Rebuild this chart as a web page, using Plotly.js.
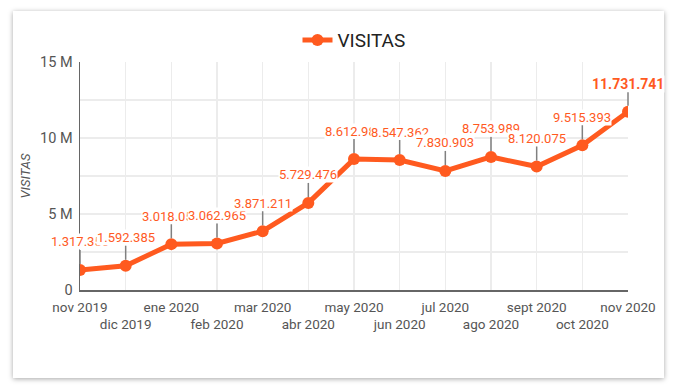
<!DOCTYPE html>
<html>
<head>
<meta charset="utf-8">
<script src="https://cdn.plot.ly/plotly-3.0.1.min.js"></script>
<style>
  html, body { margin: 0; padding: 0; background: #ffffff; width: 678px; height: 392px; overflow: hidden; }
  #card { position: absolute; left: 13px; top: 11px; width: 651px; height: 367px; background: #fff;
          box-shadow: 0 1px 5px rgba(0,0,0,0.35); }
  #chart { position: absolute; left: 0; top: 0; width: 678px; height: 392px; }
</style>
</head>
<body>
<div id="card"></div>
<div id="chart"></div>
<script>
const months = ['nov 2019','dic 2019','ene 2020','feb 2020','mar 2020','abr 2020','may 2020','jun 2020','jul 2020','ago 2020','sept 2020','oct 2020','nov 2020'];
const visitas = [1317350, 1592385, 3018050, 3062965, 3871211, 5729476, 8612985, 8547362, 7830903, 8753989, 8120075, 9515393, 11731741];
const yTickVals = [0, 2500000, 5000000, 7500000, 10000000, 12500000, 15000000];
const yTickText = ['0', '', '5 M', '', '10 M', '', '15 M'];

const orange = '#ff5a1f';
const fmt = v => String(v).replace(/\B(?=(\d{3})+(?!\d))/g, '.');
const xIdx = months.map((m, i) => i);
const xTickText = months.map((m, i) => (i % 2 ? '<br>' + m : m));

const annotations = visitas.map((v, i) => {
  const last = i === visitas.length - 1;
  return {
    x: i, y: v, xref: 'x', yref: 'y',
    text: last ? '<b>' + fmt(v) + '</b>' : fmt(v),
    showarrow: true, arrowhead: 0, arrowwidth: 1.5, arrowcolor: '#808080',
    ax: 0, ay: -28, standoff: 6,
    bgcolor: 'rgba(255,255,255,1)', borderpad: 0,
    font: { family: 'Roboto', size: last ? 14 : 13, color: orange }
  };
});

const trace = {
  x: xIdx, y: visitas, type: 'scatter', mode: 'lines+markers', name: 'VISITAS',
  line: { color: orange, width: 5 },
  marker: { color: orange, size: 12 },
  hoverinfo: 'none'
};

const layout = {
  width: 678, height: 392,
  margin: { l: 80, r: 50, t: 62, b: 102 },
  paper_bgcolor: 'rgba(0,0,0,0)', plot_bgcolor: 'rgba(0,0,0,0)',
  font: { family: 'Roboto', color: '#555' },
  showlegend: true,
  legend: { orientation: 'h', x: 0.5, xanchor: 'center', y: 1.096, yanchor: 'middle',
            font: { family: 'Roboto', size: 19, color: '#222' } },
  xaxis: {
    range: [0, 12], tickmode: 'array', tickvals: xIdx, ticktext: xTickText, tickangle: 0,
    ticks: 'outside', ticklen: 4, tickcolor: 'rgba(0,0,0,0)',
    showgrid: true, gridcolor: '#ececec', gridwidth: 1.5,
    showline: true, linecolor: '#666', linewidth: 1.5, zeroline: false,
    tickfont: { family: 'Roboto', size: 13.5, color: '#555' }, fixedrange: true
  },
  yaxis: {
    range: [0, 15000000], tickmode: 'array', tickvals: yTickVals, ticktext: yTickText,
    ticks: 'outside', ticklen: 3, tickcolor: 'rgba(0,0,0,0)',
    showgrid: true, gridcolor: '#ececec', gridwidth: 1.5,
    showline: true, linecolor: '#666', linewidth: 1.5, zeroline: false,
    tickfont: { family: 'Roboto', size: 14.5, color: '#555' },
    title: { text: '<i>VISITAS</i>', font: { family: 'Roboto', size: 13, color: '#555' }, standoff: 6 },
    fixedrange: true
  },
  annotations: annotations
};

Plotly.newPlot('chart', [trace], layout, { displayModeBar: false, staticPlot: true });
</script>
</body>
</html>
